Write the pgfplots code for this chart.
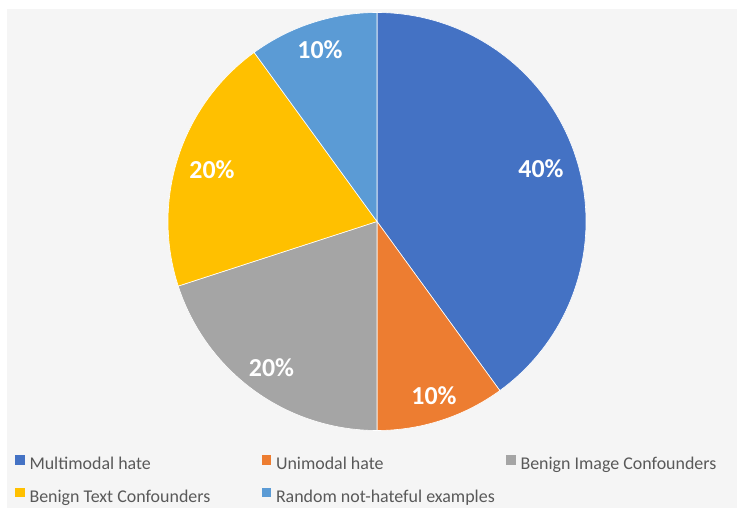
\documentclass[border=0pt]{standalone}
\usepackage{fontspec}
\setmainfont{Carlito}
\usepackage{pgfplots}
\pgfplotsset{compat=1.18}
\definecolor{cA}{HTML}{4472C4}
\definecolor{cB}{HTML}{ED7D31}
\definecolor{cC}{HTML}{A5A5A5}
\definecolor{cD}{HTML}{FFC000}
\definecolor{cE}{HTML}{5B9BD5}
\definecolor{bgc}{HTML}{F5F5F5}
\definecolor{legtext}{HTML}{595959}
% data: shares in percent
\def\vA{40}% Multimodal hate
\def\vB{10}% Unimodal hate
\def\vC{20}% Benign Image Confounders
\def\vD{20}% Benign Text Confounders
\def\vE{10}% Random not-hateful examples
\begin{document}%
\begin{tikzpicture}
\pgfmathsetmacro\aO{90}
\pgfmathsetmacro\aA{\aO-3.6*\vA}
\pgfmathsetmacro\aB{\aA-3.6*\vB}
\pgfmathsetmacro\aC{\aB-3.6*\vC}
\pgfmathsetmacro\aD{\aC-3.6*\vD}
\pgfmathsetmacro\aE{\aD-3.6*\vE}
\fill[bgc] (7bp,0bp) rectangle (737bp,499bp);
\begin{axis}[
  at={(0bp,0bp)}, anchor=south west,
  scale only axis, width=737bp, height=508bp,
  xmin=0, xmax=737, ymin=0, ymax=508,
  hide axis, clip=false,
  legend columns=3,
  legend image code/.code={\fill[#1,draw=none] (0bp,1bp) rectangle (9.5bp,10.5bp);},
  legend cell align=left,
  legend style={draw=none, fill=none, at={(0.02035,0.10433)}, anchor=north west,
    inner sep=0pt, outer sep=0pt,
    font=\fontsize{18}{21}\selectfont, text=legtext,
    nodes={inner sep=0pt, outer sep=0pt, text height=12bp, text depth=4bp},
    /tikz/column sep=5bp, /tikz/row sep=14bp},
]
\addplot[fill=cA, draw=white, line width=0.6pt, domain=\aA:\aO, samples=120, variable=\t]
  ({377+209*cos(\t)},{286.5+209*sin(\t)}) -- (axis cs:377,286.5) -- cycle;
\addlegendentry{\makebox[227bp][l]{Multimodal hate}}
\addplot[fill=cB, draw=white, line width=0.6pt, domain=\aB:\aA, samples=40, variable=\t]
  ({377+209*cos(\t)},{286.5+209*sin(\t)}) -- (axis cs:377,286.5) -- cycle;
\addlegendentry{\makebox[225bp][l]{Unimodal hate}}
\addplot[fill=cC, draw=white, line width=0.6pt, domain=\aC:\aB, samples=70, variable=\t]
  ({377+209*cos(\t)},{286.5+209*sin(\t)}) -- (axis cs:377,286.5) -- cycle;
\addlegendentry{Benign Image Confounders}
\addplot[fill=cD, draw=white, line width=0.6pt, domain=\aD:\aC, samples=70, variable=\t]
  ({377+209*cos(\t)},{286.5+209*sin(\t)}) -- (axis cs:377,286.5) -- cycle;
\addlegendentry{Benign Text Confounders}
\addplot[fill=cE, draw=white, line width=0.6pt, domain=\aE:\aD, samples=40, variable=\t]
  ({377+209*cos(\t)},{286.5+209*sin(\t)}) -- (axis cs:377,286.5) -- cycle;
\addlegendentry{Random not-hateful examples}
\begin{scope}[every node/.style={text=white, font=\bfseries\fontsize{26}{28}\selectfont}]
\node at (axis cs:541,339) {\vA\%};
\node at (axis cs:434,112) {\vB\%};
\node at (axis cs:271.5,140.5) {\vC\%};
\node at (axis cs:212,338) {\vD\%};
\node at (axis cs:320,458.5) {\vE\%};
\end{scope}
\end{axis}
\pgfresetboundingbox
\useasboundingbox (0bp,0bp) rectangle (737bp,508bp);
\end{tikzpicture}%
\end{document}
